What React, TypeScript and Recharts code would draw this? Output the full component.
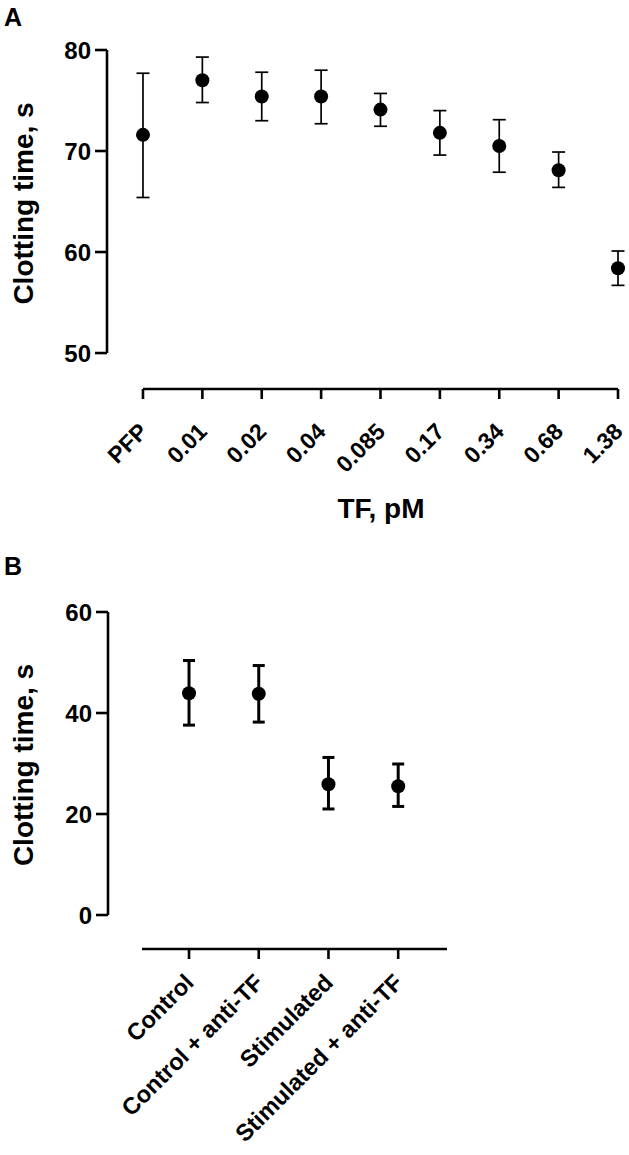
import React from "react";
import {
  ComposedChart,
  Scatter,
  ErrorBar,
  XAxis,
  YAxis,
  ReferenceLine,
} from "recharts";

const FONT = "'Liberation Sans', Arial, Helvetica, sans-serif";

// panel A: clotting time vs TF concentration
const tfLabels = ["PFP", "0.01", "0.02", "0.04", "0.085", "0.17", "0.34", "0.68", "1.38"];
const tfMean = [71.6, 77.0, 75.4, 75.4, 74.1, 71.8, 70.5, 68.1, 58.4];
const tfHigh = [77.7, 79.3, 77.8, 78.0, 75.7, 74.0, 73.1, 69.9, 60.1];
const tfLow = [65.4, 74.8, 73.0, 72.7, 72.45, 69.6, 67.9, 66.4, 56.7];
const yTicksA = [50, 60, 70, 80];

// panel B: control vs stimulated, with / without anti-TF
const groupLabels = ["Control", "Control + anti-TF", "Stimulated", "Stimulated + anti-TF"];
const groupMean = [43.9, 43.8, 25.9, 25.5];
const groupHigh = [50.4, 49.4, 31.2, 29.9];
const groupLow = [37.6, 38.2, 21.0, 21.5];
const yTicksB = [0, 20, 40, 60];

const toPoints = (mean: number[], low: number[], high: number[]) =>
  mean.map((m, i) => ({ x: i, y: m, err: [m - low[i], high[i] - m] }));

const dataA = toPoints(tfMean, tfLow, tfHigh);
const dataB = toPoints(groupMean, groupLow, groupHigh);

const dot = (r: number) => (props: any) => (
  <circle cx={props.cx} cy={props.cy} r={r} fill="#000" />
);

function RotTick(props: any) {
  const { x, y, payload, labels, fontSize, shift } = props;
  return (
    <g transform={`translate(${x + 6},${y + shift})`}>
      <text
        textAnchor="end"
        transform="rotate(-45)"
        fontSize={fontSize}
        fontWeight="bold"
        fill="#000"
        fontFamily={FONT}
      >
        {labels[payload.value]}
      </text>
    </g>
  );
}

const axisStroke = { stroke: "#000", strokeWidth: 2.6 };
const yTickStyle = { fill: "#000", fontSize: 24, fontWeight: "bold", fontFamily: FONT };

function PanelA() {
  const xMin = -0.606;
  const yMin = 46.44;
  return (
    <ComposedChart width={629} height={540} margin={{ top: 50, right: 11, bottom: 51, left: 27 }}>
      <XAxis
        type="number"
        dataKey="x"
        domain={[xMin, tfLabels.length - 1]}
        ticks={tfLabels.map((_, i) => i)}
        interval={0}
        axisLine={false}
        tickLine={axisStroke}
        tickSize={10}
        tickMargin={2}
        height={100}
        tick={<RotTick labels={tfLabels} fontSize={23} shift={32} />}
      />
      <YAxis
        type="number"
        dataKey="y"
        domain={[yMin, 80]}
        ticks={yTicksA}
        interval={0}
        width={80}
        axisLine={false}
        tickLine={axisStroke}
        tickSize={12}
        tickMargin={4}
        tick={yTickStyle}
      />
      <ReferenceLine
        segment={[{ x: xMin, y: 50 }, { x: xMin, y: 80 }]}
        stroke="#000"
        strokeWidth={2.6}
        ifOverflow="visible"
      />
      <ReferenceLine
        segment={[{ x: 0, y: yMin }, { x: tfLabels.length - 1, y: yMin }]}
        stroke="#000"
        strokeWidth={2.6}
        ifOverflow="visible"
      />
      <Scatter data={dataA} dataKey="y" isAnimationActive={false} shape={dot(7)}>
        <ErrorBar dataKey="err" direction="y" width={6.5} stroke="#000" strokeWidth={1.7} />
      </Scatter>
    </ComposedChart>
  );
}

function PanelB() {
  const xMin = -1.162;
  const xMax = 3.7;
  const yMin = -6.73;
  return (
    <ComposedChart width={629} height={595} margin={{ top: 52, right: 182, bottom: 56, left: 28 }}>
      <XAxis
        type="number"
        dataKey="x"
        domain={[xMin, xMax]}
        ticks={groupLabels.map((_, i) => i)}
        interval={0}
        axisLine={false}
        tickLine={axisStroke}
        tickSize={10}
        tickMargin={2}
        height={150}
        tick={<RotTick labels={groupLabels} fontSize={23.5} shift={23} />}
      />
      <YAxis
        type="number"
        dataKey="y"
        domain={[yMin, 60]}
        ticks={yTicksB}
        interval={0}
        width={80}
        axisLine={false}
        tickLine={axisStroke}
        tickSize={12}
        tickMargin={4}
        tick={yTickStyle}
      />
      <ReferenceLine
        segment={[{ x: xMin, y: 0 }, { x: xMin, y: 60 }]}
        stroke="#000"
        strokeWidth={2.6}
        ifOverflow="visible"
      />
      <ReferenceLine
        segment={[{ x: -0.674, y: yMin }, { x: xMax, y: yMin }]}
        stroke="#000"
        strokeWidth={2.6}
        ifOverflow="visible"
      />
      <Scatter data={dataB} dataKey="y" isAnimationActive={false} shape={dot(7)}>
        <ErrorBar dataKey="err" direction="y" width={6} stroke="#000" strokeWidth={3} />
      </Scatter>
    </ComposedChart>
  );
}

export default function App() {
  const title = { fontSize: 28, fontWeight: "bold" as const, fontFamily: FONT, fill: "#000" };
  return (
    <div
      style={{
        position: "absolute",
        left: 0,
        top: 0,
        width: 629,
        height: 1155,
        background: "#fff",
        overflow: "hidden",
      }}
    >
      <div style={{ position: "absolute", left: 0, top: 0 }}>
        <PanelA />
      </div>
      <div style={{ position: "absolute", left: 0, top: 560 }}>
        <PanelB />
      </div>
      <svg
        width={629}
        height={1155}
        style={{ position: "absolute", left: 0, top: 0, pointerEvents: "none" }}
      >
        <text x={4} y={26} fontSize={25} fontWeight="bold" fontFamily={FONT}>A</text>
        <text x={4} y={575} fontSize={25} fontWeight="bold" fontFamily={FONT}>B</text>
        <text transform="translate(33,203.5) rotate(-90)" textAnchor="middle" {...title}>
          Clotting time, s
        </text>
        <text transform="translate(33,765) rotate(-90)" textAnchor="middle" {...title}>
          Clotting time, s
        </text>
        <text x={381} y={518} textAnchor="middle" {...title}>
          TF, pM
        </text>
      </svg>
    </div>
  );
}
